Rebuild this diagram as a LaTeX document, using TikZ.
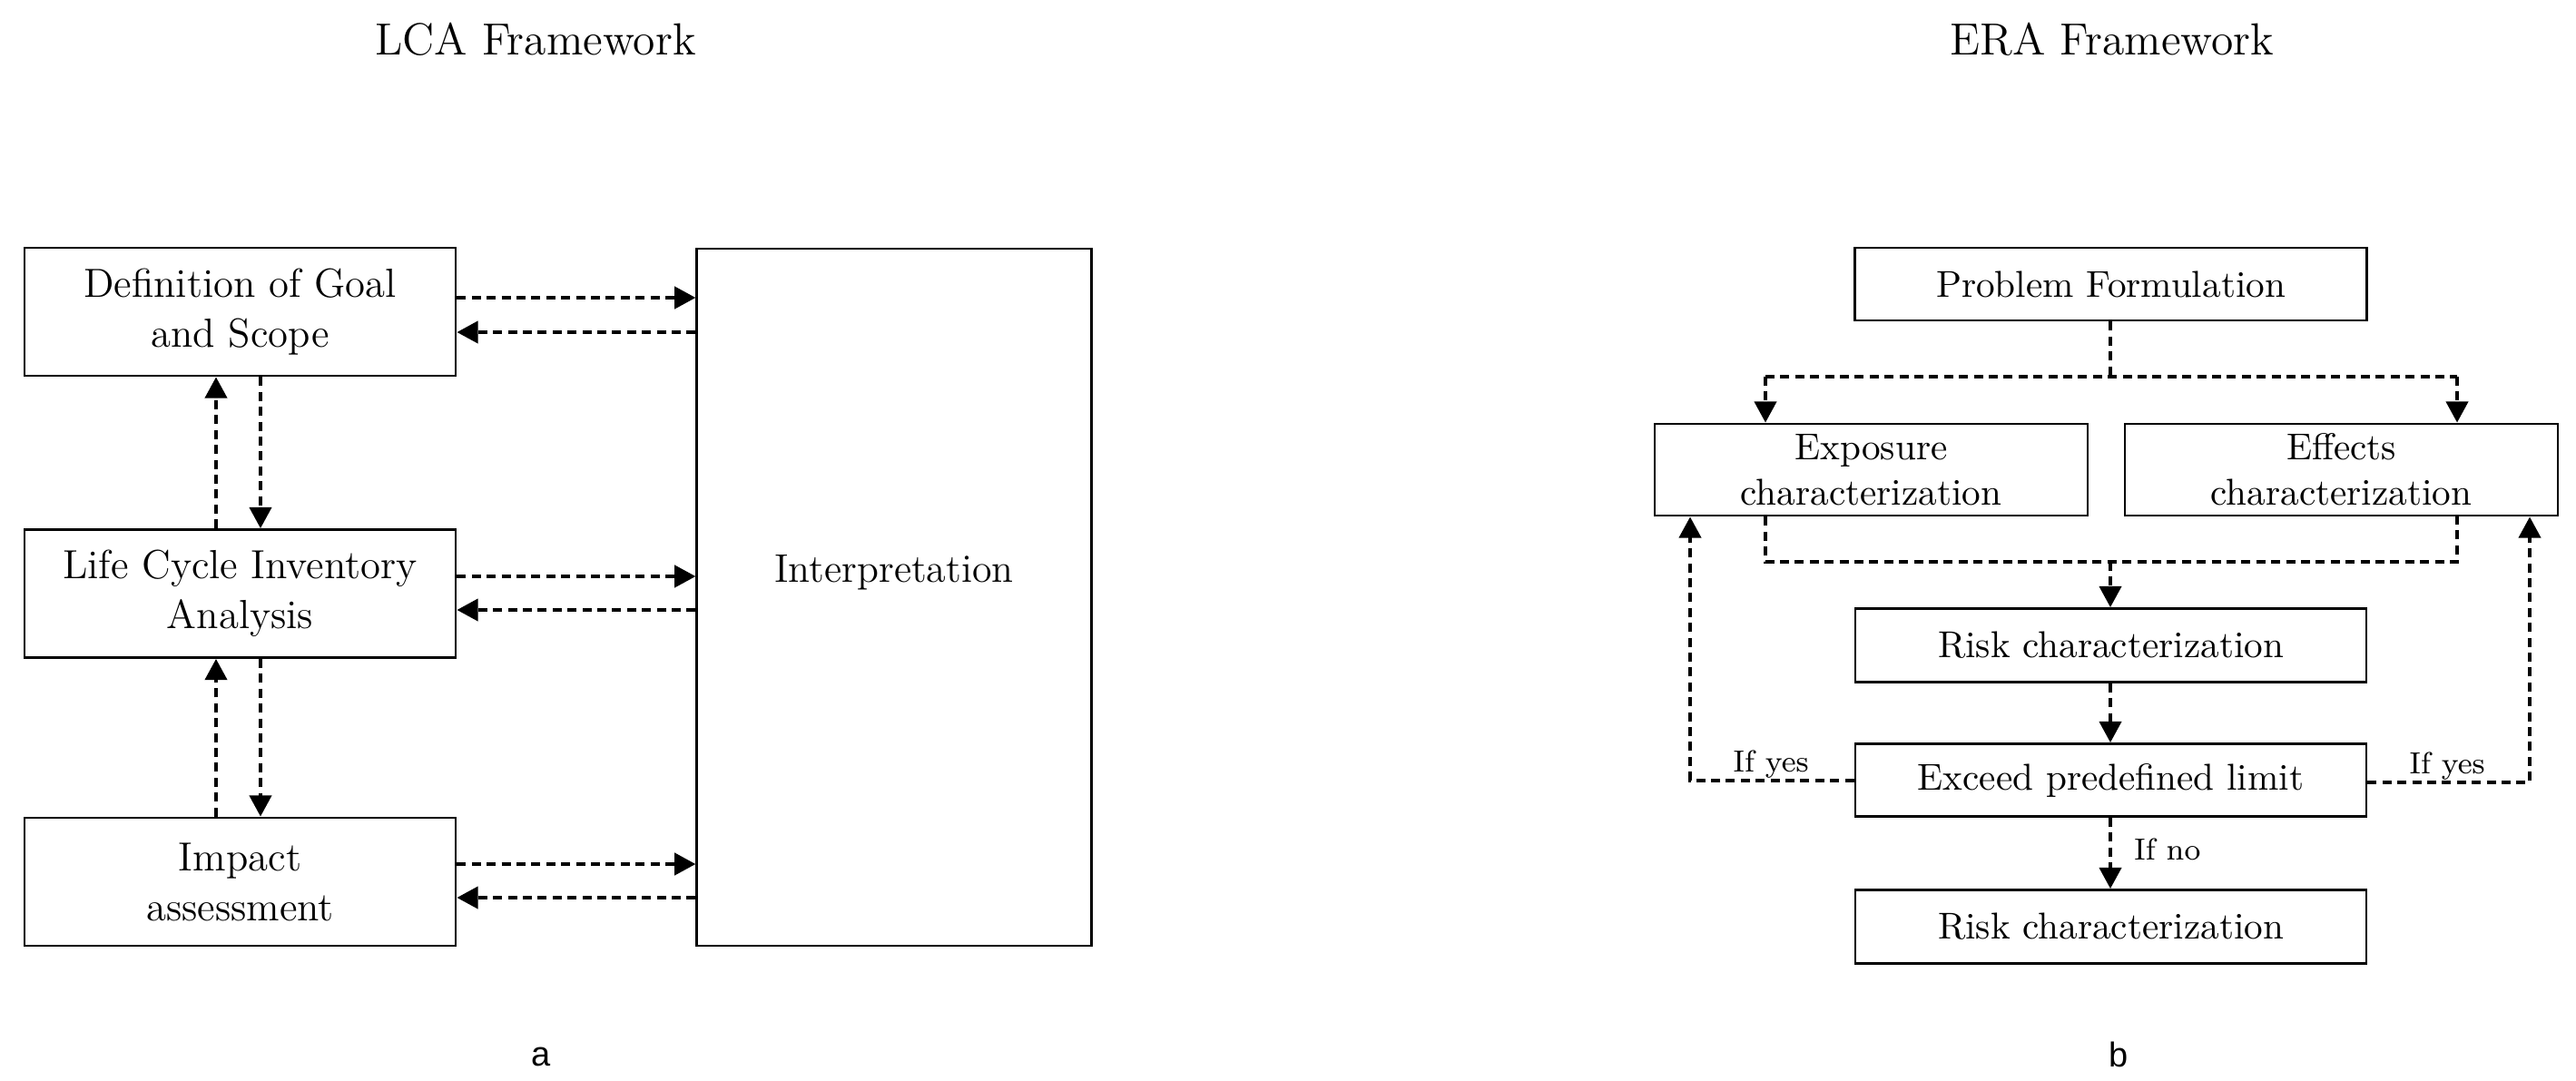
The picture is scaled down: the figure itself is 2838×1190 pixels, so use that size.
\documentclass[tikz,border=0pt]{standalone}
\usepackage{fontspec}
\newfontfamily\labsans{Liberation Sans}
\usetikzlibrary{arrows.meta}
\tikzset{
  box/.style={draw, line width=0.7pt, inner sep=0pt, align=center},
  lcabox/.style={box, minimum width=118.75pt, minimum height=35.25pt,
    font=\fontsize{11.2}{13.75}\selectfont},
  erabox/.style={box, minimum width=140.75pt, minimum height=20.25pt,
    font=\fontsize{10.3}{12.5}\selectfont},
  erabig/.style={box, minimum width=119.25pt, minimum height=25.25pt,
    font=\fontsize{10.3}{12.5}\selectfont},
  titletext/.style={font=\fontsize{12.4}{15}\selectfont, anchor=base, inner sep=0pt},
  smalltext/.style={font=\fontsize{8.4}{10}\selectfont, anchor=base, inner sep=0pt},
  paneltext/.style={font=\labsans\fontsize{9.5}{11}\selectfont, anchor=base, inner sep=0pt},
  dline/.style={line width=1pt, dash pattern=on 2.5pt off 1.6pt},
  arr/.style={dline, -{Triangle[length=5.8pt,width=6pt]}}
}
\begin{document}
\begin{tikzpicture}[x=0.25pt, y=-0.25pt]
\fill[white] (0,0) rectangle (2838,1190);
\useasboundingbox (0,0) rectangle (2838,1190);

% ---------- LCA ----------
\node[titletext] (lcat) at (590,60) {LCA Framework};
\node[lcabox] (def) at (264.5,343.5) {Definition of Goal\\and Scope};
\node[lcabox] (lci) at (264.5,654) {Life Cycle Inventory\\Analysis};
\node[lcabox] (imp) at (264.5,971.5) {Impact\\assessment};
\node[box, minimum width=108.6pt, minimum height=192pt,
      font=\fontsize{11}{13}\selectfont] (interp) at (985,658)
      {\raisebox{4.25pt}[0pt][0pt]{Interpretation}};

\draw[arr] (def.east |- 0,328) -- (interp.west |- 0,328);
\draw[arr] (interp.west |- 0,366) -- (def.east |- 0,366);
\draw[arr] (lci.east |- 0,635) -- (interp.west |- 0,635);
\draw[arr] (interp.west |- 0,672) -- (lci.east |- 0,672);
\draw[arr] (imp.east |- 0,952) -- (interp.west |- 0,952);
\draw[arr] (interp.west |- 0,989) -- (imp.east |- 0,989);

\draw[arr] (lci.north -| 238,0) -- (def.south -| 238,0);
\draw[arr] (def.south -| 287,0) -- (lci.north -| 287,0);
\draw[arr] (imp.north -| 238,0) -- (lci.south -| 238,0);
\draw[arr] (lci.south -| 287,0) -- (imp.north -| 287,0);

\node[paneltext] (pa) at (596,1174) {a};

% ---------- ERA ----------
\node[titletext] (erat) at (2327,60) {ERA Framework};
\node[erabox, minimum width=141pt, minimum height=20pt] (pf) at (2325.5,313) {Problem Formulation};
\node[erabig] (expo) at (2061.5,517.5) {Exposure\\characterization};
\node[erabig] (eff) at (2579.5,517.5) {Effects\\characterization};
\node[erabox] (risk1) at (2325.5,711) {Risk characterization};
\node[erabox, minimum height=20pt] (exc) at (2325.5,859.5) {Exceed predefined limit};
\node[erabox] (risk2) at (2325.5,1021) {Risk characterization};

\coordinate (split) at (2325,415);
\coordinate (splitL) at (1945,415);
\coordinate (splitR) at (2707,415);
\draw[dline] (pf.south -| split) -- (split);
\draw[dline] (splitL) -- (splitR);
\draw[arr] (splitL) -- (splitL |- expo.north);
\draw[arr] (splitR) -- (splitR |- eff.north);

\coordinate (mergeL) at (1945,619);
\coordinate (mergeR) at (2707,619);
\coordinate (merge) at (2325,619);
\draw[dline] (mergeL |- expo.south) -- (mergeL) -- (mergeR) -- (mergeR |- eff.south);
\draw[arr] (merge) -- (merge |- risk1.north);

\draw[arr] (risk1.south -| merge) -- (exc.north -| merge);
\draw[arr] (exc.south -| merge) -- (risk2.north -| merge)
  node[smalltext, pos=0.45, anchor=west, xshift=6pt] {If no};

\coordinate (yesL) at (1862,860);
\coordinate (yesR) at (2787,862);
\draw[arr] (exc.west |- yesL) -- (yesL) -- (yesL |- expo.south);
\draw[arr] (exc.east |- yesR) -- (yesR) -- (yesR |- eff.south);
\node[smalltext] (lyesL) at (1951,850) {If yes};
\node[smalltext] (lyesR) at (2696,852) {If yes};

\node[paneltext] (pb) at (2334,1175) {b};
\end{tikzpicture}
\end{document}
